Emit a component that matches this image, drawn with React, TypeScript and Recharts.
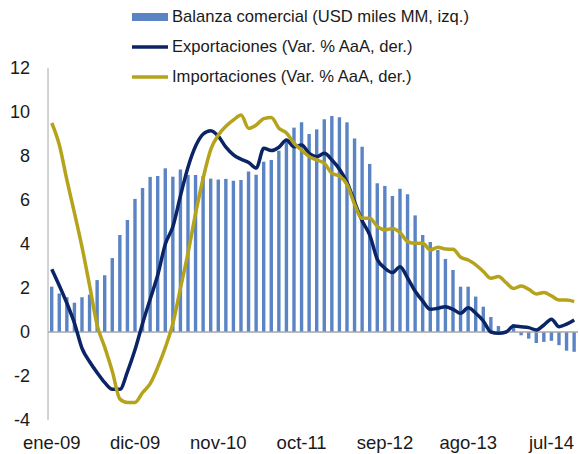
import React from 'react';
import { ComposedChart, Bar, Line, XAxis, YAxis, ReferenceLine, Legend } from 'recharts';

// Meses (ene-09 a oct-14)
const meses = ['ene', 'feb', 'mar', 'abr', 'may', 'jun', 'jul', 'ago', 'sep', 'oct', 'nov', 'dic'];
const anios = ['09', '10', '11', '12', '13', '14'];
const periodos: string[] = [];
anios.forEach((a) => meses.forEach((m) => periodos.push(`${m}-${a}`)));
const categorias = periodos.slice(0, 70);

// Balanza comercial (USD miles MM, izq.)
const balanza = [
  2.06, 1.75, 1.58, 1.33, 1.58, 1.7, 2.36, 2.58, 3.36, 4.41,
  5.09, 6.05, 6.55, 7.05, 7.09, 7.44, 7.06, 7.39, 7.14, 7.14,
  7.09, 6.97, 6.93, 6.96, 6.87, 6.91, 7.3, 7.15, 7.74, 7.82,
  8.24, 8.73, 9.29, 9.53, 9.0, 9.21, 9.67, 9.82, 9.76, 9.53,
  8.8, 8.42, 7.64, 6.76, 6.64, 6.18, 6.51, 6.26, 5.3, 4.41,
  4.09, 3.73, 3.32, 2.82, 2.06, 2.06, 1.61, 1.15, 0.68, 0.27,
  0.03, 0.36, -0.15, -0.3, -0.5, -0.45, -0.4, -0.6, -0.85, -0.9,
];

// Exportaciones (Var. % AaA, der.)
const exportaciones = [
  2.85, 2.1, 1.3, 0.4, -0.75, -1.35, -1.85, -2.3, -2.6, -2.6,
  -1.8, -0.8, 0.4, 1.5, 2.6, 4.0, 4.8, 6.2, 7.5, 8.45,
  9.0, 9.15, 8.9, 8.4, 8.05, 7.85, 7.7, 7.45, 8.35, 8.25,
  8.4, 8.73, 8.42, 8.5, 8.12, 7.97, 8.12, 7.82, 7.4, 6.8,
  5.9, 5.05, 4.4, 3.3, 2.9, 2.7, 2.97, 2.45, 1.85, 1.4,
  1.03, 1.08, 1.15, 1.03, 0.85, 1.1, 0.85, 0.5, 0.0, -0.06,
  0.0, 0.27, 0.24, 0.2, 0.09, 0.32, 0.58, 0.24, 0.36, 0.55,
];

// Importaciones (Var. % AaA, der.)
const importaciones = [
  9.5, 8.5, 6.9, 5.4, 3.85, 2.1, 0.3, -0.7, -1.8, -3.05,
  -3.2, -3.2, -2.75, -2.35, -1.6, -0.7, 0.4, 2.0, 3.6, 5.4,
  7.0, 8.3, 8.95, 9.35, 9.64, 9.86, 9.26, 9.41, 9.7, 9.75,
  9.26, 9.05, 8.58, 8.27, 7.97, 7.82, 7.67, 7.21, 7.09, 6.7,
  5.8, 5.17, 5.17, 4.8, 4.64, 4.71, 4.52, 4.11, 4.03, 4.03,
  3.73, 3.85, 3.77, 3.76, 3.4, 3.27, 3.05, 2.75, 2.44, 2.52,
  2.24, 1.98, 2.09, 1.94, 1.73, 1.79, 1.64, 1.45, 1.45, 1.38,
];

const ticksY = [-4, -2, 0, 2, 4, 6, 8, 10, 12];

const data = categorias.map((mes, i) => ({
  mes,
  balanza: balanza[i],
  exportaciones: exportaciones[i],
  importaciones: importaciones[i],
}));

const fuente = '"Liberation Sans", Arial, sans-serif';

// Leyenda propia: rectangulo para barras, linea para series
const Leyenda = ({ payload }: any) => (
  <div style={{ fontFamily: fuente, fontSize: 16.6, color: '#1a1a1a' }}>
    {(payload || []).map((item: any) => (
      <div key={item.value} style={{ display: 'flex', alignItems: 'center', height: 30 }}>
        <svg width={38} height={10} style={{ marginRight: 2 }}>
          {item.type === 'rect' ? (
            <rect x={0} y={1} width={36} height={8} fill={item.color} />
          ) : (
            <line x1={0} y1={5} x2={36} y2={5} stroke={item.color} strokeWidth={3.5} />
          )}
        </svg>
        <span>{item.value}</span>
      </div>
    ))}
  </div>
);

export default function App() {
  return (
    <div style={{ position: 'absolute', left: 0, top: 0 }}>
      <ComposedChart
        width={580}
        height={454}
        data={data}
        margin={{ top: 68, right: 2, bottom: 0, left: 0 }}
        style={{ fontFamily: fuente }}
      >
        <XAxis
          dataKey="mes"
          interval={10}
          axisLine={false}
          tickLine={false}
          tickSize={0}
          tickMargin={16}
          height={34}
          tick={{ fontSize: 18.5, fill: '#1a1a1a' }}
        />
        <YAxis
          domain={[-4, 12]}
          ticks={ticksY}
          width={48}
          tickLine={false}
          tickSize={0}
          tickMargin={18}
          axisLine={{ stroke: '#a6a6a6' }}
          tick={{ fontSize: 18, fill: '#1a1a1a' }}
        />
        <ReferenceLine y={0} stroke="#a6a6a6" strokeWidth={1.5} />
        <Legend
          layout="horizontal"
          verticalAlign="middle"
          align="center"
          content={<Leyenda />}
          wrapperStyle={{ top: 2, left: 132, width: 440, height: 90 }}
        />
        <Bar
          dataKey="balanza"
          name="Balanza comercial (USD miles MM, izq.)"
          fill="#5b84c4"
          barSize={3.4}
          legendType="rect"
          isAnimationActive={false}
        />
        <Line
          dataKey="exportaciones"
          name="Exportaciones (Var. % AaA, der.)"
          type="monotone"
          stroke="#0b2466"
          strokeWidth={3.5}
          dot={false}
          legendType="line"
          isAnimationActive={false}
        />
        <Line
          dataKey="importaciones"
          name="Importaciones (Var. % AaA, der.)"
          type="monotone"
          stroke="#b5a31c"
          strokeWidth={3.5}
          dot={false}
          legendType="line"
          isAnimationActive={false}
        />
      </ComposedChart>
    </div>
  );
}
